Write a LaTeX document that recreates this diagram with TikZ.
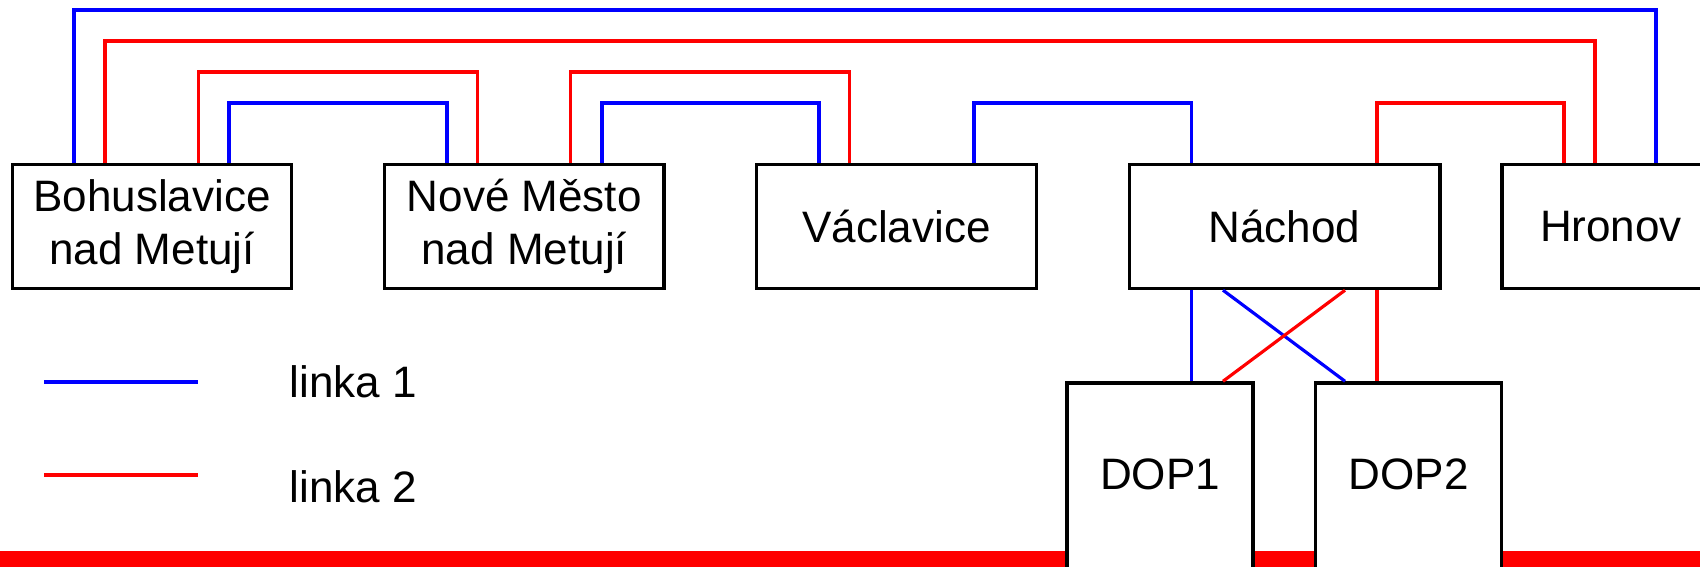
\documentclass[tikz,border=0pt]{standalone}
\usepackage{fontspec}
\setmainfont{Liberation Sans}
\definecolor{lblue}{RGB}{0,0,255}
\definecolor{lred}{RGB}{255,0,0}
\tikzset{
  txt/.style={font=\fontsize{12.52pt}{15.08pt}\selectfont},
  townbox/.style={draw=black, line width=0.95pt, fill=white, inner sep=0pt,
    minimum height=1.24cm, align=center, line join=miter, txt},
  dopbox/.style={draw=black, line width=0.95pt, fill=white, inner sep=0pt,
    minimum width=1.86cm, text height=1.06cm, text depth=1.4cm, anchor=base, txt},
  lone/.style={draw=lblue, line width=0.9pt},
  ltwo/.style={draw=lred, line width=0.9pt},
  legline/.style={line width=0.95pt},
}
\begin{document}
\begin{tikzpicture}[x=0.01cm, y=-0.01cm]
\useasboundingbox (0,0) rectangle (1700,567);
\clip (0,0) rectangle (1700,567);
% red bar
\fill[lred] (0,551) rectangle (1700,567);
% town boxes
\node[townbox, minimum width=2.79cm] (bohus) at (152.1,226.5) {Bohuslavice\\nad Metují};
\node[townbox, minimum width=2.794cm] (nove) at (524.3,226.5) {Nové Město\\nad Metují};
\node[townbox, minimum width=2.797cm] (vacl) at (896.5,226.5) {Václavice};
\node[townbox, minimum width=3.105cm] (nachod) at (1284.5,226.5) {Náchod};
\node[townbox, minimum width=2.18cm] (hronov) at (1611,226.5) {Hronov};
% DOP boxes
\node[dopbox] (dop1) at (1160,489) {DOP1};
\node[dopbox] (dop2) at (1408.7,489) {DOP2};
% linka 1 (blue)
\draw[lone] (bohus.north -| 74,0) -- (74,10) -| (hronov.north -| 1656,0);
\draw[lone] (bohus.north -| 229,0) -- (229,103) -| (nove.north -| 447,0);
\draw[lone] (nove.north -| 602,0) -- (602,103) -| (vacl.north -| 819,0);
\draw[lone] (vacl.north -| 974,0) -- (974,103) -| (nachod.north -| 1191.5,0);
\draw[lone] (nachod.south -| 1191.5,0) -- (dop1.north -| 1191.5,0);
\draw[lone] (nachod.south -| 1223,0) -- (dop2.north -| 1345,0);
% linka 2 (red)
\draw[ltwo] (bohus.north -| 105,0) -- (105,41) -| (hronov.north -| 1595,0);
\draw[ltwo] (bohus.north -| 198.6,0) -- (198.6,72) -| (nove.north -| 477.6,0);
\draw[ltwo] (nove.north -| 570.7,0) -- (570.7,72) -| (vacl.north -| 849.6,0);
\draw[ltwo] (nachod.north -| 1377,0) -- (1377,103) -| (hronov.north -| 1564,0);
\draw[ltwo] (nachod.south -| 1345,0) -- (dop1.north -| 1223,0);
\draw[ltwo] (nachod.south -| 1377,0) -- (dop2.north -| 1377,0);
% legend
\coordinate (la1) at (44,382);
\coordinate (lb1) at (198,382);
\coordinate (la2) at (44,475);
\coordinate (lb2) at (198,475);
\draw[lone, legline] (la1) -- (lb1);
\draw[ltwo, legline] (la2) -- (lb2);
\node[txt, anchor=base west, inner sep=0pt] (leg1) at (289,397) {linka 1};
\node[txt, anchor=base west, inner sep=0pt] (leg2) at (289,502) {linka 2};
\end{tikzpicture}
\end{document}
